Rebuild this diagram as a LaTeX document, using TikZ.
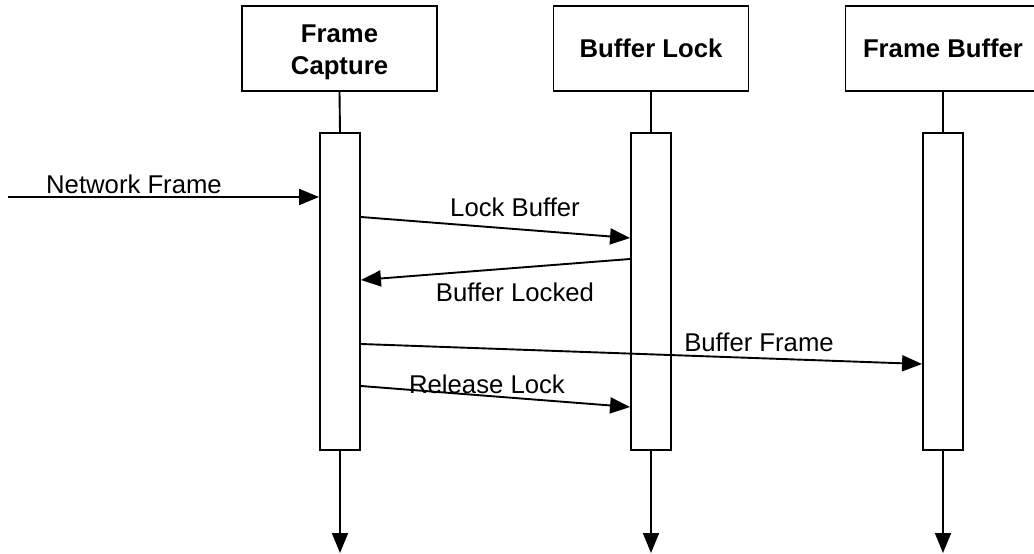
\documentclass[tikz,border=0pt]{standalone}
\usepackage{fontspec}
\setmainfont{Liberation Sans}
\usetikzlibrary{arrows.meta}
\begin{document}
\begin{tikzpicture}[x=1pt,y=-1pt,
  every node/.style={font=\fontsize{25.7}{32}\selectfont},
  actor/.style={draw, line width=1.9pt, minimum width=195pt, minimum height=85pt,
    font=\fontsize{25.7}{32}\selectfont\bfseries, align=center, inner sep=0pt},
  actbar/.style={draw, line width=1.9pt, minimum width=40pt, minimum height=317pt, inner sep=0pt},
  life/.style={line width=1.9pt},
  msg/.style={line width=1.9pt, -{Triangle[length=20pt,width=16pt]}},
  lbl/.style={anchor=base, inner sep=0pt}]
\clip (0,0) rectangle (1034,554);
% participants
\node[actor, text height=58pt] (fc) at (339.5,48.5) {Frame\\Capture};
\node[actor] (bl) at (651,48.5) {Buffer Lock};
\node[actor] (fb) at (943,48.5) {Frame Buffer};
% activation bars
\node[actbar] (fcb) at (340,291.5) {};
\node[actbar] (blb) at (651,291.5) {};
\node[actbar] (fbb) at (943,291.5) {};
% lifelines
\coordinate (fce) at (340,553);
\coordinate (ble) at (651,553);
\coordinate (fbe) at (943,553);
\draw[life] (fc.south) -- (fcb.north);
\draw[life] (bl.south) -- (blb.north);
\draw[life] (fb.south) -- (fbb.north);
\draw[msg] (fcb.south) -- (fce);
\draw[msg] (blb.south) -- (ble);
\draw[msg] (fbb.south) -- (fbe);
% messages
\coordinate (nfs) at (8,197);
\draw[msg] (nfs) -- (fcb.west |- nfs);
\node[lbl] (nfl) at (134,193) {Network Frame};
\draw[msg] (fcb.east |- 0,217) -- (blb.west |- 0,238);
\node[lbl] (lbl1) at (515,216) {Lock Buffer};
\draw[msg] (blb.west |- 0,259) -- (fcb.east |- 0,280);
\node[lbl] (lbl2) at (515,301) {Buffer Locked};
\draw[msg] (fcb.east |- 0,344) -- (fbb.west |- 0,364);
\node[lbl] (lbl3) at (759,351) {Buffer Frame};
\draw[msg] (fcb.east |- 0,386) -- (blb.west |- 0,407);
\node[lbl] (lbl4) at (487,393) {Release Lock};
\end{tikzpicture}
\end{document}
